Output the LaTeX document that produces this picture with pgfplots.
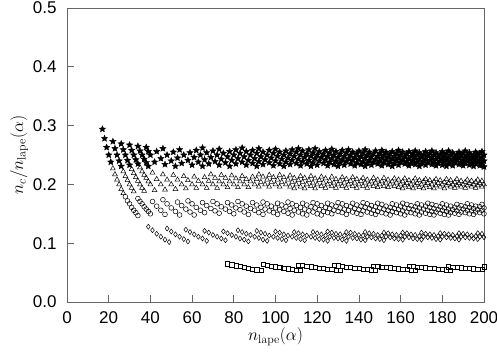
\documentclass[border=0pt]{standalone}
\usepackage[no-math]{fontspec}
\setmainfont{Liberation Sans}
\usepackage{pgfplots}
\pgfplotsset{compat=1.18}

% filled five-pointed star
\pgfdeclareplotmark{fstar}{%
  \pgfpathmoveto{\pgfpointpolar{90}{\pgfplotmarksize}}%
  \pgfpathlineto{\pgfpointpolar{126}{0.45\pgfplotmarksize}}%
  \pgfpathlineto{\pgfpointpolar{162}{\pgfplotmarksize}}%
  \pgfpathlineto{\pgfpointpolar{198}{0.45\pgfplotmarksize}}%
  \pgfpathlineto{\pgfpointpolar{234}{\pgfplotmarksize}}%
  \pgfpathlineto{\pgfpointpolar{270}{0.45\pgfplotmarksize}}%
  \pgfpathlineto{\pgfpointpolar{306}{\pgfplotmarksize}}%
  \pgfpathlineto{\pgfpointpolar{342}{0.45\pgfplotmarksize}}%
  \pgfpathlineto{\pgfpointpolar{18}{\pgfplotmarksize}}%
  \pgfpathlineto{\pgfpointpolar{54}{0.45\pgfplotmarksize}}%
  \pgfpathclose
  \pgfusepathqfillstroke}

\begin{document}
\begin{tikzpicture}
\begin{axis}[
    scale only axis,
    width=417pt, height=294pt,
    xmin=0, xmax=200, ymin=0, ymax=0.5,
    xtick={0,20,40,60,80,100,120,140,160,180,200},
    ytick={0,0.1,0.2,0.3,0.4,0.5},
    xtick pos=bottom, ytick pos=left,
    tick align=inside,
    major tick length=7pt,
    axis line style={black!60, line width=0.8pt},
    tick style={black!60, line width=0.8pt},
    /pgf/number format/assume math mode=true,
    every tick label/.append style={font=\fontsize{17}{20}\selectfont},
    yticklabel style={/pgf/number format/.cd, fixed, fixed zerofill, precision=1, /tikz/.cd, xshift=-7pt},
    xticklabel style={yshift=-6pt},
    xlabel={$n_{\mathrm{lape}}(\alpha)$},
    ylabel={$n_c/n_{\mathrm{lape}}(\alpha)$},
    label style={font=\fontsize{18}{20}\selectfont},
    xlabel style={at={(axis description cs:0.5,-0.075)}, anchor=north},
    ylabel style={at={(axis description cs:-0.085,0.5)}, anchor=south},
    every axis plot/.append style={only marks, black, line width=0.5pt},
]
% squares
\addplot[mark=square, mark size=2.1pt] coordinates {
(77,0.0649)(79,0.0633)(81,0.0617)(83,0.0602)(85,0.0588)(87,0.0575)(89,0.0562)(91,0.0549)(93,0.0538)
(94,0.0638)(96,0.0625)(98,0.0612)(100,0.0600)(102,0.0588)(104,0.0577)(106,0.0566)(108,0.0556)(110,0.0545)(112,0.0536)
(111,0.0631)(113,0.0619)(115,0.0609)(117,0.0598)(119,0.0588)(121,0.0579)(123,0.0569)(125,0.0560)(127,0.0551)(129,0.0543)(131,0.0534)
(128,0.0625)(130,0.0615)(132,0.0606)(134,0.0597)(136,0.0588)(138,0.0580)(140,0.0571)(142,0.0563)(144,0.0556)(146,0.0548)(148,0.0541)
(147,0.0612)(149,0.0604)(151,0.0596)(153,0.0588)(155,0.0581)(157,0.0573)(159,0.0566)(161,0.0559)(163,0.0552)(165,0.0545)(167,0.0539)
(164,0.0610)(166,0.0602)(168,0.0595)(170,0.0588)(172,0.0581)(174,0.0575)(176,0.0568)(178,0.0562)(180,0.0556)(182,0.0549)(184,0.0543)
(183,0.0601)(185,0.0595)(187,0.0588)(189,0.0582)(191,0.0576)(193,0.0570)(195,0.0564)(197,0.0558)(199,0.0553)
(200,0.0600)
};
% diamonds
\addplot[mark=diamond, mark size=2.5pt] coordinates {
(39,0.128)(41,0.122)(43,0.116)(45,0.111)(47,0.106)(49,0.102)
(48,0.125)(50,0.120)(52,0.115)(54,0.111)(56,0.107)(58,0.103)
(57,0.123)(59,0.119)(61,0.115)(63,0.111)(65,0.108)(67,0.104)
(66,0.121)(68,0.118)(70,0.114)(72,0.111)(74,0.108)(76,0.105)
(75,0.120)(77,0.117)(79,0.114)(81,0.111)(83,0.108)(85,0.106)(87,0.103)
(82,0.122)(84,0.119)(86,0.116)(88,0.114)(90,0.111)(92,0.109)(94,0.106)(96,0.104)
(91,0.121)(93,0.118)(95,0.116)(97,0.113)(99,0.111)(101,0.109)(103,0.107)(105,0.105)
(100,0.120)(102,0.118)(104,0.115)(106,0.113)(108,0.111)(110,0.109)(112,0.107)(114,0.105)
(109,0.119)(111,0.117)(113,0.115)(115,0.113)(117,0.111)(119,0.109)(121,0.107)(123,0.106)(125,0.104)
(118,0.119)(120,0.117)(122,0.115)(124,0.113)(126,0.111)(128,0.109)(130,0.108)(132,0.106)(134,0.104)
(125,0.120)(127,0.118)(129,0.116)(131,0.115)(133,0.113)(135,0.111)(137,0.109)(139,0.108)(141,0.106)(143,0.105)
(134,0.119)(136,0.118)(138,0.116)(140,0.114)(142,0.113)(144,0.111)(146,0.110)(148,0.108)(150,0.107)(152,0.105)
(143,0.119)(145,0.117)(147,0.116)(149,0.114)(151,0.113)(153,0.111)(155,0.110)(157,0.108)(159,0.107)(161,0.106)
(152,0.118)(154,0.117)(156,0.115)(158,0.114)(160,0.113)(162,0.111)(164,0.110)(166,0.108)(168,0.107)(170,0.106)
(161,0.118)(163,0.117)(165,0.115)(167,0.114)(169,0.112)(171,0.111)(173,0.110)(175,0.109)(177,0.107)(179,0.106)
(170,0.118)(172,0.116)(174,0.115)(176,0.114)(178,0.112)(180,0.111)(182,0.110)(184,0.109)(186,0.108)(188,0.106)
(179,0.117)(181,0.116)(183,0.115)(185,0.114)(187,0.112)(189,0.111)(191,0.110)(193,0.109)(195,0.108)(197,0.107)
(188,0.117)(190,0.116)(192,0.115)(194,0.113)(196,0.112)(198,0.111)(200,0.110)
(197,0.117)(199,0.116)
};
% circles
\addplot[mark=o, mark size=2.4pt] coordinates {
(28,0.179)(29,0.172)(30,0.167)(31,0.161)(32,0.156)(33,0.152)(34,0.147)
(34,0.176)(35,0.171)(36,0.167)(37,0.162)(38,0.158)(39,0.154)(40,0.150)
(41,0.171)(43,0.163)(45,0.156)(47,0.149)
(46,0.174)(48,0.167)(50,0.160)(52,0.154)(54,0.148)
(53,0.170)(55,0.164)(57,0.158)(59,0.153)(61,0.148)
(58,0.172)(60,0.167)(62,0.161)(64,0.156)(66,0.152)
(65,0.169)(67,0.164)(69,0.159)(71,0.155)(73,0.151)
(70,0.171)(72,0.167)(74,0.162)(76,0.158)(78,0.154)(80,0.150)
(77,0.169)(79,0.165)(81,0.160)(83,0.157)(85,0.153)(87,0.149)
(82,0.171)(84,0.167)(86,0.163)(88,0.159)(90,0.156)(92,0.152)(94,0.149)
(89,0.169)(91,0.165)(93,0.161)(95,0.158)(97,0.155)(99,0.152)(101,0.149)
(94,0.170)(96,0.167)(98,0.163)(100,0.160)(102,0.157)(104,0.154)(106,0.151)(108,0.148)
(101,0.168)(103,0.165)(105,0.162)(107,0.159)(109,0.156)(111,0.153)(113,0.150)(115,0.148)
(106,0.170)(108,0.167)(110,0.164)(112,0.161)(114,0.158)(116,0.155)(118,0.153)(120,0.150)(122,0.148)
(113,0.168)(115,0.165)(117,0.162)(119,0.160)(121,0.157)(123,0.154)(125,0.152)(127,0.150)
(118,0.169)(120,0.167)(122,0.164)(124,0.161)(126,0.159)(128,0.156)(130,0.154)(132,0.152)(134,0.149)
(125,0.168)(127,0.165)(129,0.163)(131,0.160)(133,0.158)(135,0.156)(137,0.153)(139,0.151)(141,0.149)
(130,0.169)(132,0.167)(134,0.164)(136,0.162)(138,0.159)(140,0.157)(142,0.155)(144,0.153)(146,0.151)(148,0.149)
(137,0.168)(139,0.165)(141,0.163)(143,0.161)(145,0.159)(147,0.156)(149,0.154)(151,0.152)(153,0.150)(155,0.148)
(142,0.169)(144,0.167)(146,0.164)(148,0.162)(150,0.160)(152,0.158)(154,0.156)(156,0.154)(158,0.152)(160,0.150)(162,0.148)
(149,0.168)(151,0.166)(153,0.163)(155,0.161)(157,0.159)(159,0.157)(161,0.155)(163,0.153)(165,0.152)(167,0.150)(169,0.148)
(156,0.167)(158,0.165)(160,0.163)(162,0.160)(164,0.159)(166,0.157)(168,0.155)(170,0.153)(172,0.151)(174,0.149)(176,0.148)
(161,0.168)(163,0.166)(165,0.164)(167,0.162)(169,0.160)(171,0.158)(173,0.156)(175,0.154)(177,0.153)(179,0.151)(181,0.149)(183,0.148)
(168,0.167)(170,0.165)(172,0.163)(174,0.161)(176,0.159)(178,0.157)(180,0.156)(182,0.154)(184,0.152)(186,0.151)(188,0.149)
(173,0.168)(175,0.166)(177,0.164)(179,0.162)(181,0.160)(183,0.158)(185,0.157)(187,0.155)(189,0.153)(191,0.152)(193,0.150)(195,0.149)
(180,0.167)(182,0.165)(184,0.163)(186,0.161)(188,0.160)(190,0.158)(192,0.156)(194,0.155)(196,0.153)(198,0.152)(200,0.150)
(187,0.166)(189,0.164)(191,0.162)(193,0.161)(195,0.159)(197,0.157)(199,0.156)
(192,0.167)(194,0.165)(196,0.163)(198,0.162)(200,0.160)
(199,0.166)
};
% triangles
\addplot[mark=triangle, mark size=2.8pt] coordinates {
(22,0.227)(23,0.217)(24,0.208)(25,0.200)(26,0.192)(27,0.185)
(27,0.222)(28,0.214)(29,0.207)(30,0.200)(31,0.194)(32,0.188)
(31,0.226)(32,0.219)(33,0.212)(34,0.206)(35,0.200)(36,0.194)(37,0.189)
(35,0.229)(36,0.222)(37,0.216)(38,0.211)(39,0.205)(40,0.200)(42,0.190)
(41,0.220)(43,0.209)(45,0.200)(47,0.191)
(46,0.217)(48,0.208)(50,0.200)(52,0.192)
(51,0.216)(53,0.208)(55,0.200)(57,0.193)
(56,0.214)(58,0.207)(60,0.200)(62,0.194)
(61,0.213)(63,0.206)(65,0.200)(67,0.194)
(66,0.212)(68,0.206)(70,0.200)(72,0.194)
(69,0.217)(71,0.211)(73,0.205)(75,0.200)(77,0.195)
(74,0.216)(76,0.211)(78,0.205)(80,0.200)(82,0.195)
(79,0.215)(81,0.210)(83,0.205)(85,0.200)(87,0.195)
(84,0.214)(86,0.209)(88,0.205)(90,0.200)(92,0.196)
(89,0.213)(91,0.209)(93,0.204)(95,0.200)(97,0.196)
(92,0.217)(94,0.213)(96,0.208)(98,0.204)(100,0.200)(102,0.196)
(97,0.216)(99,0.212)(101,0.208)(103,0.204)(105,0.200)(107,0.196)(109,0.193)
(102,0.216)(104,0.212)(106,0.208)(108,0.204)(110,0.200)(112,0.196)(114,0.193)
(107,0.215)(109,0.211)(111,0.207)(113,0.204)(115,0.200)(117,0.197)(119,0.193)
(112,0.214)(114,0.211)(116,0.207)(118,0.203)(120,0.200)(122,0.197)(124,0.194)
(117,0.214)(119,0.210)(121,0.207)(123,0.203)(125,0.200)(127,0.197)(129,0.194)
(122,0.213)(124,0.210)(126,0.206)(128,0.203)(130,0.200)(132,0.197)(134,0.194)
(127,0.213)(129,0.209)(131,0.206)(133,0.203)(135,0.200)(137,0.197)(139,0.194)
(132,0.212)(134,0.209)(136,0.206)(138,0.203)(140,0.200)(142,0.197)(144,0.194)
(137,0.212)(139,0.209)(141,0.206)(143,0.203)(145,0.200)(147,0.197)(149,0.195)
(142,0.211)(144,0.208)(146,0.205)(148,0.203)(150,0.200)(152,0.197)(154,0.195)
(147,0.211)(149,0.208)(151,0.205)(153,0.203)(155,0.200)(157,0.197)(159,0.195)(161,0.193)
(152,0.211)(154,0.208)(156,0.205)(158,0.203)(160,0.200)(162,0.198)(164,0.195)(166,0.193)
(157,0.210)(159,0.208)(161,0.205)(163,0.202)(165,0.200)(167,0.198)(169,0.195)(171,0.193)
(162,0.210)(164,0.207)(166,0.205)(168,0.202)(170,0.200)(172,0.198)(174,0.195)(176,0.193)
(167,0.210)(169,0.207)(171,0.205)(173,0.202)(175,0.200)(177,0.198)(179,0.196)(181,0.193)
(172,0.209)(174,0.207)(176,0.205)(178,0.202)(180,0.200)(182,0.198)(184,0.196)(186,0.194)
(177,0.209)(179,0.207)(181,0.204)(183,0.202)(185,0.200)(187,0.198)(189,0.196)(191,0.194)
(182,0.209)(184,0.207)(186,0.204)(188,0.202)(190,0.200)(192,0.198)(194,0.196)(196,0.194)
(187,0.209)(189,0.206)(191,0.204)(193,0.202)(195,0.200)(197,0.198)(199,0.196)
(192,0.208)(194,0.206)(196,0.204)(198,0.202)(200,0.200)
(197,0.208)(199,0.206)
};
% stars
\addplot[mark=fstar, mark size=3.2pt] coordinates {
(17,0.294)(18,0.278)(19,0.263)(20,0.250)(21,0.238)
(22,0.273)(23,0.261)(24,0.250)(25,0.240)(26,0.231)
(26,0.269)(27,0.259)(28,0.250)(29,0.241)(30,0.233)
(30,0.267)(31,0.258)(32,0.250)(33,0.242)(34,0.235)
(34,0.265)(35,0.257)(36,0.250)(37,0.243)(38,0.237)(39,0.231)
(38,0.263)(39,0.256)(40,0.250)(42,0.238)
(43,0.256)(45,0.244)(47,0.234)
(46,0.261)(48,0.250)(50,0.240)(52,0.231)
(51,0.255)(53,0.245)(55,0.236)
(54,0.259)(56,0.250)(58,0.241)(60,0.233)
(59,0.254)(61,0.246)(63,0.238)(65,0.231)
(62,0.258)(64,0.250)(66,0.242)(68,0.235)
(65,0.262)(67,0.254)(69,0.246)(71,0.239)(73,0.233)
(70,0.257)(72,0.250)(74,0.243)(76,0.237)(78,0.231)
(73,0.260)(75,0.253)(77,0.247)(79,0.241)(81,0.235)
(78,0.256)(80,0.250)(82,0.244)(84,0.238)(86,0.233)
(81,0.259)(83,0.253)(85,0.247)(87,0.241)(89,0.236)(91,0.231)
(84,0.262)(86,0.256)(88,0.250)(90,0.244)(92,0.239)(94,0.234)
(89,0.258)(91,0.253)(93,0.247)(95,0.242)(97,0.237)(99,0.232)
(92,0.261)(94,0.255)(96,0.250)(98,0.245)(100,0.240)(102,0.235)(104,0.231)
(97,0.258)(99,0.253)(101,0.248)(103,0.243)(105,0.238)(107,0.234)
(100,0.260)(102,0.255)(104,0.250)(106,0.245)(108,0.241)(110,0.236)(112,0.232)
(105,0.257)(107,0.252)(109,0.248)(111,0.243)(113,0.239)(115,0.235)(117,0.231)
(108,0.259)(110,0.255)(112,0.250)(114,0.246)(116,0.241)(118,0.237)(120,0.233)
(111,0.261)(113,0.257)(115,0.252)(117,0.248)(119,0.244)(121,0.240)(123,0.236)(125,0.232)
(116,0.259)(118,0.254)(120,0.250)(122,0.246)(124,0.242)(126,0.238)(128,0.234)(130,0.231)
(119,0.261)(121,0.256)(123,0.252)(125,0.248)(127,0.244)(129,0.240)(131,0.237)(133,0.233)
(124,0.258)(126,0.254)(128,0.250)(130,0.246)(132,0.242)(134,0.239)(136,0.235)(138,0.232)
(127,0.260)(129,0.256)(131,0.252)(133,0.248)(135,0.244)(137,0.241)(139,0.237)(141,0.234)(143,0.231)
(132,0.258)(134,0.254)(136,0.250)(138,0.246)(140,0.243)(142,0.239)(144,0.236)(146,0.233)
(135,0.259)(137,0.255)(139,0.252)(141,0.248)(143,0.245)(145,0.241)(147,0.238)(149,0.235)(151,0.232)
(140,0.257)(142,0.254)(144,0.250)(146,0.247)(148,0.243)(150,0.240)(152,0.237)(154,0.234)(156,0.231)
(143,0.259)(145,0.255)(147,0.252)(149,0.248)(151,0.245)(153,0.242)(155,0.239)(157,0.236)(159,0.233)
(148,0.257)(150,0.253)(152,0.250)(154,0.247)(156,0.244)(158,0.241)(160,0.238)(162,0.235)(164,0.232)
(151,0.258)(153,0.255)(155,0.252)(157,0.248)(159,0.245)(161,0.242)(163,0.239)(165,0.236)(167,0.234)(169,0.231)
(156,0.256)(158,0.253)(160,0.250)(162,0.247)(164,0.244)(166,0.241)(168,0.238)(170,0.235)(172,0.233)
(159,0.258)(161,0.255)(163,0.252)(165,0.248)(167,0.246)(169,0.243)(171,0.240)(173,0.237)(175,0.234)(177,0.232)
(164,0.256)(166,0.253)(168,0.250)(170,0.247)(172,0.244)(174,0.241)(176,0.239)(178,0.236)(180,0.233)(182,0.231)
(167,0.257)(169,0.254)(171,0.251)(173,0.249)(175,0.246)(177,0.243)(179,0.240)(181,0.238)(183,0.235)(185,0.232)
(172,0.256)(174,0.253)(176,0.250)(178,0.247)(180,0.244)(182,0.242)(184,0.239)(186,0.237)(188,0.234)(190,0.232)
(175,0.257)(177,0.254)(179,0.251)(181,0.249)(183,0.246)(185,0.243)(187,0.241)(189,0.238)(191,0.236)(193,0.233)(195,0.231)
(180,0.256)(182,0.253)(184,0.250)(186,0.247)(188,0.245)(190,0.242)(192,0.240)(194,0.237)(196,0.235)(198,0.232)(200,0.230)
(183,0.257)(185,0.254)(187,0.251)(189,0.249)(191,0.246)(193,0.244)(195,0.241)(197,0.239)(199,0.236)
(188,0.255)(190,0.253)(192,0.250)(194,0.247)(196,0.245)(198,0.242)(200,0.240)
(191,0.257)(193,0.254)(195,0.251)(197,0.249)(199,0.246)
(196,0.255)(198,0.253)(200,0.250)
(199,0.256)
};
\end{axis}
\pgfresetboundingbox
\path[use as bounding box] ([shift={(-67pt,-52pt)}]current axis.south west) rectangle ([shift={(13pt,8pt)}]current axis.north east);
\end{tikzpicture}
\end{document}
